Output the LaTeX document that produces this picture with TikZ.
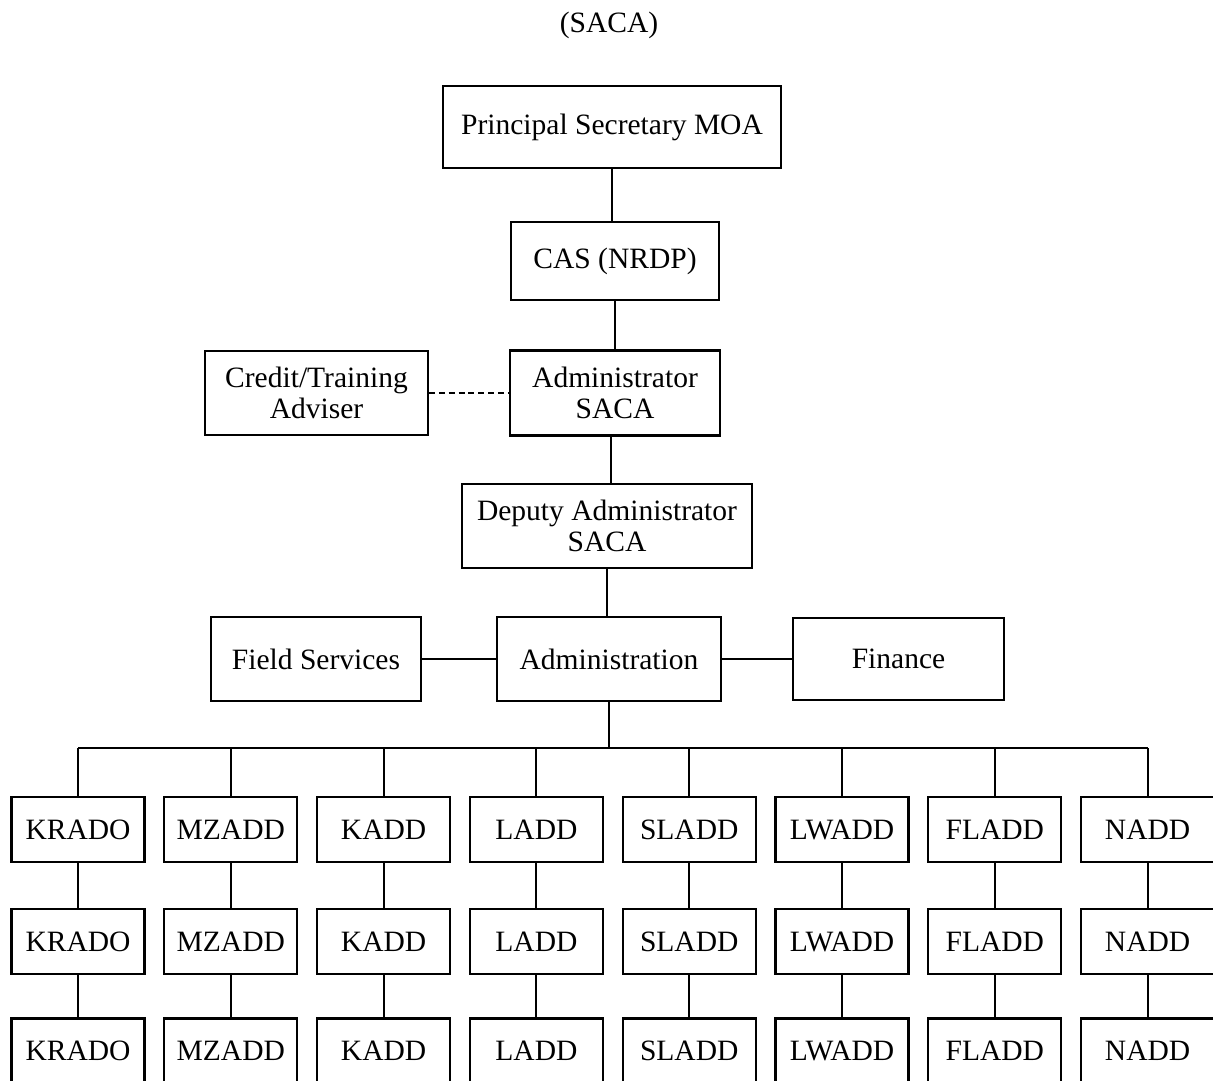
\documentclass[tikz,border=0pt]{standalone}
\usepackage{fontspec}
\setmainfont{Liberation Serif}
\usetikzlibrary{calc}
\tikzset{
    org_box/.style={draw,semithick,align=center,inner sep=1pt,font=\fontsize{8.4}{8.8}\selectfont},
    dist_box/.style={org_box,minimum width=1.33cm,minimum height=0.65cm},
    org_line/.style={semithick},
    org_dashed/.style={semithick,dash pattern=on 1.7pt off 1.1pt},
}

\begin{document}
\begin{tikzpicture}
  \useasboundingbox (0,0) rectangle (12.13,10.80);
  \node[font=\fontsize{8.4}{8.8}\selectfont] (title) at (6.09,10.55) {(SACA)};
  % Draw head office boxes
  \node[org_box,minimum width=3.38cm,minimum height=0.82cm] (ps) at (6.12,9.53) {Principal Secretary MOA};
  \node[org_box,minimum width=2.08cm,minimum height=0.78cm] (cas) at (6.15,8.19) {CAS (NRDP)};
  \node[org_box,minimum width=2.10cm,minimum height=0.85cm] (adm) at (6.15,6.87) {Administrator\\SACA};
  \node[org_box,minimum width=2.23cm,minimum height=0.84cm] (cta) at (3.165,6.87) {Credit/Training\\Adviser};
  \node[org_box,minimum width=2.90cm,minimum height=0.84cm] (dep) at (6.07,5.54) {Deputy Administrator\\SACA};
  \node[org_box,minimum width=2.24cm,minimum height=0.84cm] (admin) at (6.09,4.21) {Administration};
  \node[org_box,minimum width=2.10cm,minimum height=0.84cm] (fs) at (3.16,4.21) {Field Services};
  \node[org_box,minimum width=2.11cm,minimum height=0.82cm] (fin) at (8.985,4.21) {Finance};
  \coordinate (bus) at (6.09,3.32);
  % Draw links between head office boxes
  \draw[org_line] (ps.south) -- (ps.south |- cas.north);
  \draw[org_line] (cas) -- (adm);
  \draw[org_line] (adm.south -| 6.11,0) -- (dep.north -| 6.11,0);
  \draw[org_line] (dep.south) -- (dep.south |- admin.north);
  \draw[org_dashed] (cta) -- (adm);
  \draw[org_line] (fs) -- (admin);
  \draw[org_line] (admin) -- (fin);
  \draw[org_line] (admin) -- (bus);
  % Draw district offices, three levels each
  \foreach \dname [count=\i from 0] in {KRADO,MZADD,KADD,LADD,SLADD,LWADD,FLADD,NADD} {
    \node[dist_box] (\dname-1) at ({0.78+1.528*\i},2.505) {\dname};
    \node[dist_box] (\dname-2) at ({0.78+1.528*\i},1.385) {\dname};
    \node[dist_box] (\dname-3) at ({0.78+1.528*\i},0.29) {\dname};
    \draw[org_line] (\dname-1.north) -- (\dname-1.north |- bus);
    \draw[org_line] (\dname-1) -- (\dname-2);
    \draw[org_line] (\dname-2) -- (\dname-3);
  }
  \draw[org_line] (KRADO-1.north |- bus) -- (NADD-1.north |- bus);
\end{tikzpicture}
\end{document}
